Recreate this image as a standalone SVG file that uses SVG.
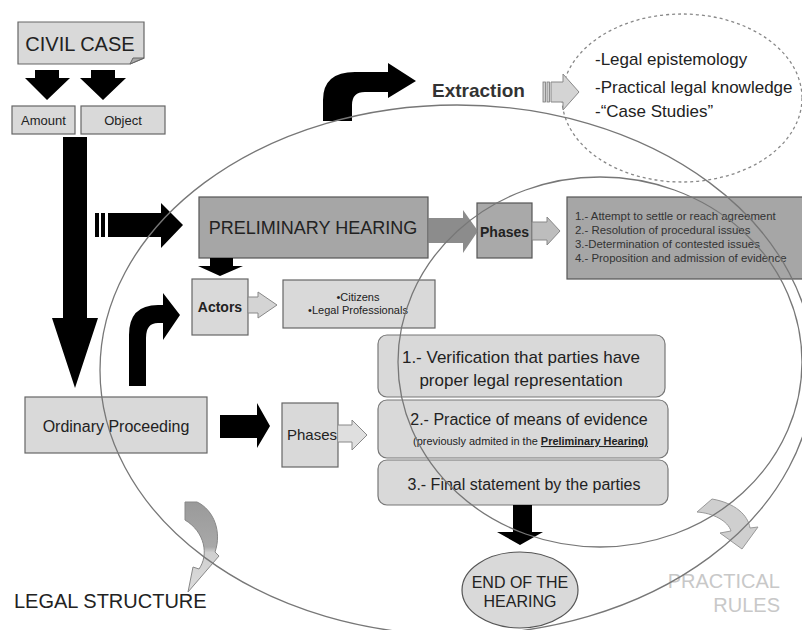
<svg xmlns="http://www.w3.org/2000/svg" width="802" height="630" viewBox="0 0 802 630">
<style>
text{font-family:"Liberation Sans",Arial,sans-serif;fill:#222}
text.pr{fill:#c8c8c8}
text.dk{fill:#333}
.lb{fill:#d9d9d9;stroke:#666;stroke-width:1.2}
.db{fill:#a6a6a6;stroke:#555;stroke-width:1.2}
.rb{fill:#d9d9d9;stroke:#777;stroke-width:1.2}
.blk{fill:#000}
.ga{fill:#d4d4d4;stroke:#888;stroke-width:1}
.ell{fill:none;stroke:#777;stroke-width:1.3}
</style>
<defs>
<linearGradient id="lg" x1="0" y1="0" x2="0" y2="1">
<stop offset="0" stop-color="#9a9a9a"/><stop offset="0.5" stop-color="#a8a8a8"/><stop offset="0.56" stop-color="#cfcfcf"/><stop offset="1" stop-color="#dcdcdc"/>
</linearGradient>
</defs>
<rect width="802" height="630" fill="#fff"/>

<g id="extraction-list">
<ellipse cx="682" cy="98" rx="120" ry="84" fill="none" stroke="#888" stroke-width="1.3" stroke-dasharray="3,3"/>
<text x="595" y="65" font-size="17">-Legal epistemology</text>
<text x="595" y="93" font-size="17">-Practical legal knowledge</text>
<text x="595" y="117" font-size="17">-“Case Studies”</text>
</g>

<g id="civil-case">
<path class="lb" d="M18,22 H144 V58 L130,64 H18 Z"/>
<path d="M130,64 L133,58 L144,58 Z" fill="#aaa" stroke="#666" stroke-width="1"/>
<text x="80" y="51" font-size="20" text-anchor="middle">CIVIL CASE</text>
</g>

<g id="amount">
<rect class="lb" x="12" y="106" width="63" height="28"/>
<text x="43.5" y="125" font-size="13" text-anchor="middle">Amount</text>
</g>
<g id="object">
<rect class="lb" x="81" y="106" width="84" height="28"/>
<text x="123" y="125" font-size="13" text-anchor="middle">Object</text>
</g>

<g id="preliminary-hearing">
<rect class="db" x="199" y="197" width="229" height="61"/>
<text x="313" y="234" font-size="18" text-anchor="middle">PRELIMINARY HEARING</text>
</g>

<g id="phases-top">
<rect class="db" x="477" y="203" width="55" height="55" style="fill:#a9a9a9"/>
<text x="480" y="237" font-size="14" font-weight="bold">Phases</text>
<path class="ga" d="M532,222 H547 V217 L560,231 L547,245 V240 H532 Z" style="fill:#bdbdbd"/>
</g>

<g id="phase-list">
<rect class="db" x="567" y="197" width="240" height="82"/>
<text class="dk" font-size="11.4"><tspan x="575" y="220">1.- Attempt to settle or reach agreement</tspan><tspan x="575" y="234">2.- Resolution of procedural issues</tspan><tspan x="575" y="248">3.-Determination of contested issues</tspan><tspan x="575" y="262">4.- Proposition and admission of evidence</tspan></text>
</g>

<g id="actors">
<rect class="lb" x="192" y="279" width="56" height="56"/>
<text x="220" y="312" font-size="14" font-weight="bold" text-anchor="middle">Actors</text>
<path class="ga" d="M248,297 H258 V292 L277,305 L258,318 V313 H248 Z"/>
</g>

<g id="citizens">
<rect class="lb" x="283" y="280" width="152" height="48"/>
<text x="358" y="301" font-size="11" text-anchor="middle">•Citizens</text>
<text x="358" y="314" font-size="11" text-anchor="middle">•Legal Professionals</text>
</g>

<g id="ordinary-proceeding">
<rect class="lb" x="25" y="397" width="182" height="56"/>
<text x="116" y="432" font-size="16" text-anchor="middle">Ordinary Proceeding</text>
</g>

<g id="phases-bottom">
<rect class="lb" x="282" y="403" width="56" height="64"/>
<text x="287" y="440" font-size="15">Phases</text>
<path class="ga" d="M338,425 H352 V420 L367,435 L352,450 V442 H338" style="fill:#d9d9d9;fill-opacity:0.85"/>
</g>

<g id="step1">
<rect class="rb" x="378" y="335" width="287" height="62" rx="9"/>
<text x="521" y="363" font-size="17" text-anchor="middle">1.- Verification that parties have</text>
<text x="521" y="386" font-size="17" text-anchor="middle">proper legal representation</text>
</g>
<g id="step2">
<rect class="rb" x="378" y="400" width="290" height="58" rx="9"/>
<text x="529" y="425" font-size="16" text-anchor="middle">2.- Practice of means of evidence</text>
<text x="413" y="445" font-size="10.5" textLength="235" lengthAdjust="spacingAndGlyphs">(previously admited in the <tspan font-weight="bold" text-decoration="underline">Preliminary Hearing)</tspan></text>
</g>
<g id="step3">
<rect class="rb" x="378" y="460" width="290" height="45" rx="9"/>
<text x="524" y="490" font-size="16" text-anchor="middle">3.- Final statement by the parties</text>
</g>

<g id="end-hearing">
<ellipse cx="520" cy="590" rx="58" ry="38" fill="#d9d9d9" stroke="#555" stroke-width="1.2"/>
<text x="520" y="588" font-size="16" text-anchor="middle">END OF THE</text>
<text x="520" y="607" font-size="16" text-anchor="middle">HEARING</text>
</g>

<g id="extraction">
<text class="dk" x="432" y="97" font-size="19" font-weight="bold">Extraction</text>
</g>

<g id="labels">
<text x="14" y="608" font-size="20">LEGAL STRUCTURE</text>
<text class="pr" x="780" y="588" font-size="20" text-anchor="end">PRACTICAL</text>
<text class="pr" x="780" y="612" font-size="20" text-anchor="end">RULES</text>
</g>

<g id="connectors">
<path class="blk" d="M35,70 H59 V78 H70 L47,100 L25,78 H35 Z"/>
<path class="blk" d="M91,70 H115 V78 H126 L103,100 L80,78 H91 Z"/>
<path class="blk" d="M63,137 H87 V318 H98 L75,388 L52,318 H63 Z"/>
<rect class="blk" x="95" y="213" width="4" height="24"/>
<rect class="blk" x="101" y="213" width="4" height="24"/>
<path class="blk" d="M108,213 H161 V203 L183,225 L161,248 V237 H108 Z"/>
<path d="M428,218 H463 V210 L478,231 L463,253 V243 H428 Z" fill="#808080" fill-opacity="0.9"/>
<path class="blk" d="M210,258 H233 V266 H243 L220,276 L198,266 H210 Z"/>
<path class="blk" d="M129,386 V335 Q129,305 158,305 H163 V293 L180,315 L163,340 V323 H158 Q146,323 146,338 V386 Z"/>
<path class="blk" d="M323,121 V100 Q323,72 355,72 H388 V63 L416,81 L388,98 V92 H365 Q352,92 352,105 V121 Z"/>
<rect x="543" y="82" width="2.5" height="20" fill="#d0d0d0" stroke="#777" stroke-width="0.8"/>
<rect x="547" y="82" width="2.5" height="20" fill="#d0d0d0" stroke="#777" stroke-width="0.8"/>
<path class="ga" d="M551,82 H563 V74 L579,92 L563,110 V102 H551 Z"/>
<path class="blk" d="M220,415 H257 V403 L270,426 L257,448 V438 H220 Z"/>
<path class="blk" d="M513,505 H532 V532 H543 L520,545 L497,532 H513 Z"/>
<path d="M185,502 L197,502 C214,510 222,532 215,552 L219,556 L188,592 L193,567 L199,569 C209,555 205,532 185,520 Z" fill="url(#lg)" stroke="#888" stroke-width="1"/>
<path d="M697,512 L712,499 C735,503 748,515 750,528 L758,527 L742,549 L720,533 L731,531 C728,521 713,513 697,512 Z" fill="#cfcfcf" stroke="#999" stroke-width="1"/>
</g>

<g id="cycles">
<ellipse class="ell" cx="457" cy="370" rx="357" ry="265"/>
<ellipse class="ell" cx="600" cy="362" rx="202" ry="185"/>
</g>
</svg>
